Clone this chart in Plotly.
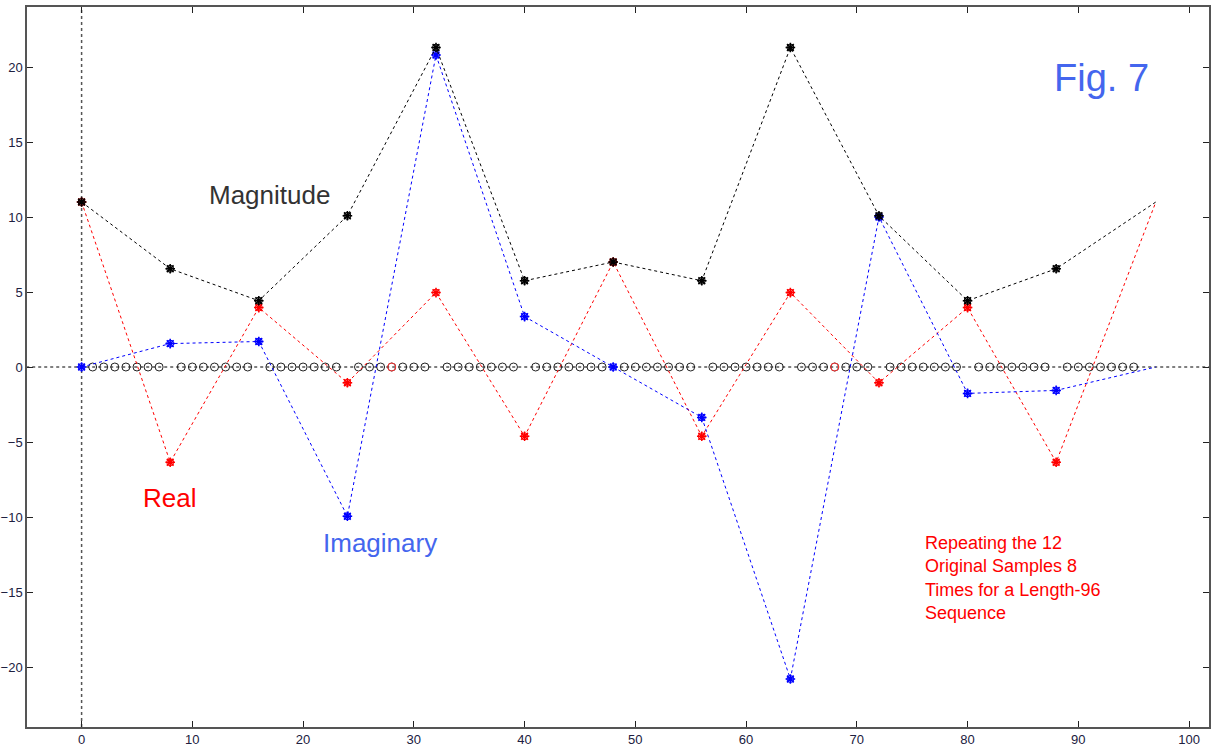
import plotly.graph_objects as go

# Sample positions (every 8th sample) plus the wrap-around end point
k_idx = [0, 8, 16, 24, 32, 40, 48, 56, 64, 72, 80, 88]
k_end = 97
magnitude = [11.0, 6.55, 4.42, 10.08, 21.3, 5.75, 7.0, 5.75, 21.3, 10.08, 4.42, 6.55]
real_part = [11.0, -6.35, 3.96, -1.05, 4.96, -4.62, 7.0, -4.62, 4.96, -1.05, 3.96, -6.35]
imag_part = [0.0, 1.56, 1.7, -9.95, 20.8, 3.36, 0.0, -3.36, -20.8, 10.0, -1.76, -1.56]
end_mag, end_real, end_imag = 11.0, 11.0, 0.0

zero_idx = [n for n in range(1, 96) if n % 8 != 0]
zero_vals = [0.0] * len(zero_idx)
red_zero_idx = [28, 68]
red_zero_vals = [0.0, 0.0]

x_ticks = [0, 10, 20, 30, 40, 50, 60, 70, 80, 90, 100]
y_ticks = [-20, -15, -10, -5, 0, 5, 10, 15, 20]

DASH = "3px,3px"
fig = go.Figure()

# reference lines
fig.add_trace(go.Scatter(x=[-5, 102], y=[0, 0], mode="lines",
                         line=dict(color="black", width=1, dash=DASH), hoverinfo="skip"))
fig.add_trace(go.Scatter(x=[0, 0], y=[-24, 24], mode="lines",
                         line=dict(color="#555555", width=1.5, dash="3px,3px"), hoverinfo="skip"))

# zero-valued samples
fig.add_trace(go.Scatter(x=zero_idx, y=zero_vals, mode="markers",
                         marker=dict(symbol="circle-open", size=8, color="#222222", line=dict(width=1))))
fig.add_trace(go.Scatter(x=red_zero_idx, y=red_zero_vals, mode="markers",
                         marker=dict(symbol="circle-open", size=8, color="#ff3030", line=dict(width=1))))

def series(vals, endv, color):
    xs = k_idx + [k_end]
    ys = vals + [endv]
    fig.add_trace(go.Scatter(x=xs, y=ys, mode="lines",
                             line=dict(color=color, width=1, dash=DASH)))
    fig.add_trace(go.Scatter(x=k_idx, y=vals, mode="markers",
                             marker=dict(symbol="circle-open", size=7, color=color, line=dict(width=1))))
    fig.add_trace(go.Scatter(x=k_idx, y=vals, mode="markers",
                             marker=dict(symbol="asterisk-open", size=8, color=color, line=dict(width=1.5))))

series(real_part, end_real, "#ff0000")
series(imag_part, end_imag, "#0000ff")
series(magnitude, end_mag, "#000000")

fig.add_annotation(x=92.1, y=19.3, text="Fig. 7", showarrow=False,
                   font=dict(family="Arial, Liberation Sans", size=38, color="#4466ee"))
fig.add_annotation(x=16.97, y=11.5, text="Magnitude", showarrow=False,
                   font=dict(family="Arial, Liberation Sans", size=26, color="#333333"))
fig.add_annotation(x=7.94, y=-8.7, text="Real", showarrow=False,
                   font=dict(family="Arial, Liberation Sans", size=26, color="#ff0000"))
fig.add_annotation(x=26.9, y=-11.7, text="Imaginary", showarrow=False,
                   font=dict(family="Arial, Liberation Sans", size=26, color="#4466ee"))
fig.add_annotation(x=76.0, y=-10.9, xanchor="left", yanchor="top", align="left",
                   text="Repeating the 12<br>Original Samples 8<br>Times for a Length-96<br>Sequence",
                   showarrow=False,
                   font=dict(family="Arial, Liberation Sans", size=18, color="#ff0000"))

axis_common = dict(showgrid=False, zeroline=False, showline=True, linecolor="#555555",
                   linewidth=1.5, mirror="ticks", ticks="inside", ticklen=6, tickcolor="#222222",
                   tickfont=dict(family="Arial, Liberation Sans", size=13, color="#202040"))
fig.update_xaxes(range=[-4.93, 101.8], tickvals=x_ticks, **axis_common)
fig.update_yaxes(range=[-24, 24], tickvals=y_ticks, **axis_common)

fig.update_layout(width=1212, height=749, showlegend=False,
                  plot_bgcolor="white", paper_bgcolor="white",
                  margin=dict(l=27, r=1, t=7, b=22))

fig.write_html("out.html")
